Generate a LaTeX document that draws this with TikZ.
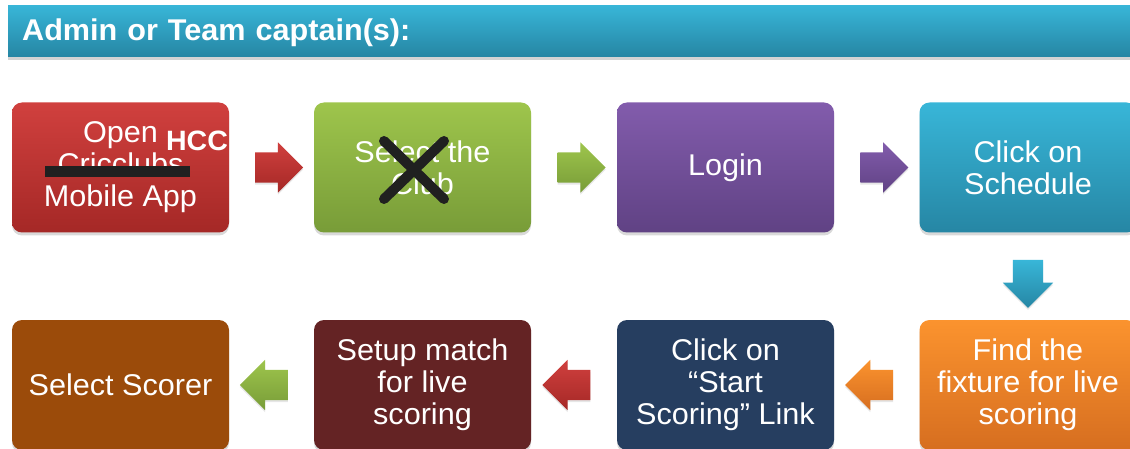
\documentclass[tikz,border=0pt]{standalone}
\usepackage{fontspec}
\setmainfont{Liberation Sans}[FakeStretch=1.02]
\usetikzlibrary{shapes.arrows,shadows,calc}
\definecolor{redtop}{RGB}{208,64,62}
\definecolor{redbot}{RGB}{165,40,38}
\definecolor{greentop}{RGB}{158,197,76}
\definecolor{greenbot}{RGB}{120,156,56}
\definecolor{purpletop}{RGB}{130,92,172}
\definecolor{purplebot}{RGB}{96,66,132}
\definecolor{bluetop}{RGB}{56,182,216}
\definecolor{bluebot}{RGB}{38,134,164}
\definecolor{orangetop}{RGB}{251,147,46}
\definecolor{orangebot}{RGB}{214,110,32}
\definecolor{navy}{RGB}{38,62,96}
\definecolor{maroon}{RGB}{100,35,36}
\definecolor{brown}{RGB}{155,75,10}
\definecolor{strike}{RGB}{32,32,32}

\begin{document}
\begin{tikzpicture}[x=1pt, y=-1pt,
        stepbox/.style={rounded corners=10pt, minimum width=217pt, minimum height=130pt, align=center, text=white, font=\fontsize{30}{32}\selectfont, drop shadow={opacity=0.3, shadow xshift=0pt, shadow yshift=-3pt}},
        flowarrow/.style={single arrow, single arrow head extend=10pt, inner xsep=0pt, inner ysep=15pt, minimum height=48pt, drop shadow={opacity=0.2, shadow xshift=0pt, shadow yshift=-2pt}},
        downarrow/.style={flowarrow, shape border rotate=270, inner xsep=15pt, inner ysep=0pt},
        hdrbar/.style={top color=bluetop, bottom color=bluebot, text=white, font=\bfseries\fontsize{30}{32}\selectfont, minimum height=51pt, text height=19pt, text depth=0pt, text width=1110pt, inner xsep=14pt, align=left, drop shadow={opacity=0.35, shadow xshift=0pt, shadow yshift=-4pt}}]
        	\useasboundingbox (0,0) rectangle (1130,449);
        	\node [hdrbar, anchor=north west] (title) at (8,5) {Admin or Team captain(s):};
        	\node [stepbox, top color=redtop, bottom color=redbot] (open) at (120.5,167.5) {Open\\Cricclubs\\Mobile App};
        	\node [stepbox, top color=greentop, bottom color=greenbot] (club) at (422.5,167.5) {Select the\\Club};
        	\node [stepbox, top color=purpletop, bottom color=purplebot] (login) at (725.5,167.5) {Login};
        	\node [stepbox, top color=bluetop, bottom color=bluebot] (schedule) at (1028,167.5) {Click on\\Schedule};
        	\node [stepbox, top color=orangetop, bottom color=orangebot] (fixture) at (1028,385) {Find the\\fixture for live\\scoring};
        	\node [stepbox, fill=navy] (start) at (725.5,385) {Click on\\``Start\\Scoring'' Link};
        	\node [stepbox, fill=maroon] (setup) at (422.5,385) {Setup match\\for live\\scoring};
        	\node [stepbox, fill=brown] (scorer) at (120.5,385) {Select Scorer};
        	\fill [strike] (45,166) rectangle (190,177);
        	\node [text=white, font=\bfseries\fontsize{28}{30}\selectfont, inner sep=0pt] (hcc) at (197,141) {HCC};
        	\draw [strike, line width=10pt, line cap=round] (384,141) -- (444,199);
        	\draw [strike, line width=10pt, line cap=round] (444,141) -- (384,199);
        	\node [flowarrow, top color=redtop, bottom color=redbot] (a1) at ($(open.east)!0.5!(club.west)$) {};
        	\node [flowarrow, top color=greentop, bottom color=greenbot] (a2) at ($(club.east)!0.5!(login.west)$) {};
        	\node [flowarrow, top color=purpletop, bottom color=purplebot] (a3) at ($(login.east)!0.5!(schedule.west)$) {};
        	\node [downarrow, top color=bluetop, bottom color=bluebot] (a4) at ($(schedule.south)!0.5!(fixture.north)$) {};
        	\node [flowarrow, shape border rotate=180, top color=orangetop, bottom color=orangebot] (a5) at ($(fixture.west)!0.5!(start.east)$) {};
        	\node [flowarrow, shape border rotate=180, top color=redtop, bottom color=redbot] (a6) at ($(start.west)!0.5!(setup.east)$) {};
        	\node [flowarrow, shape border rotate=180, top color=greentop, bottom color=greenbot] (a7) at ($(setup.west)!0.5!(scorer.east)$) {};
        \end{tikzpicture}
\end{document}
